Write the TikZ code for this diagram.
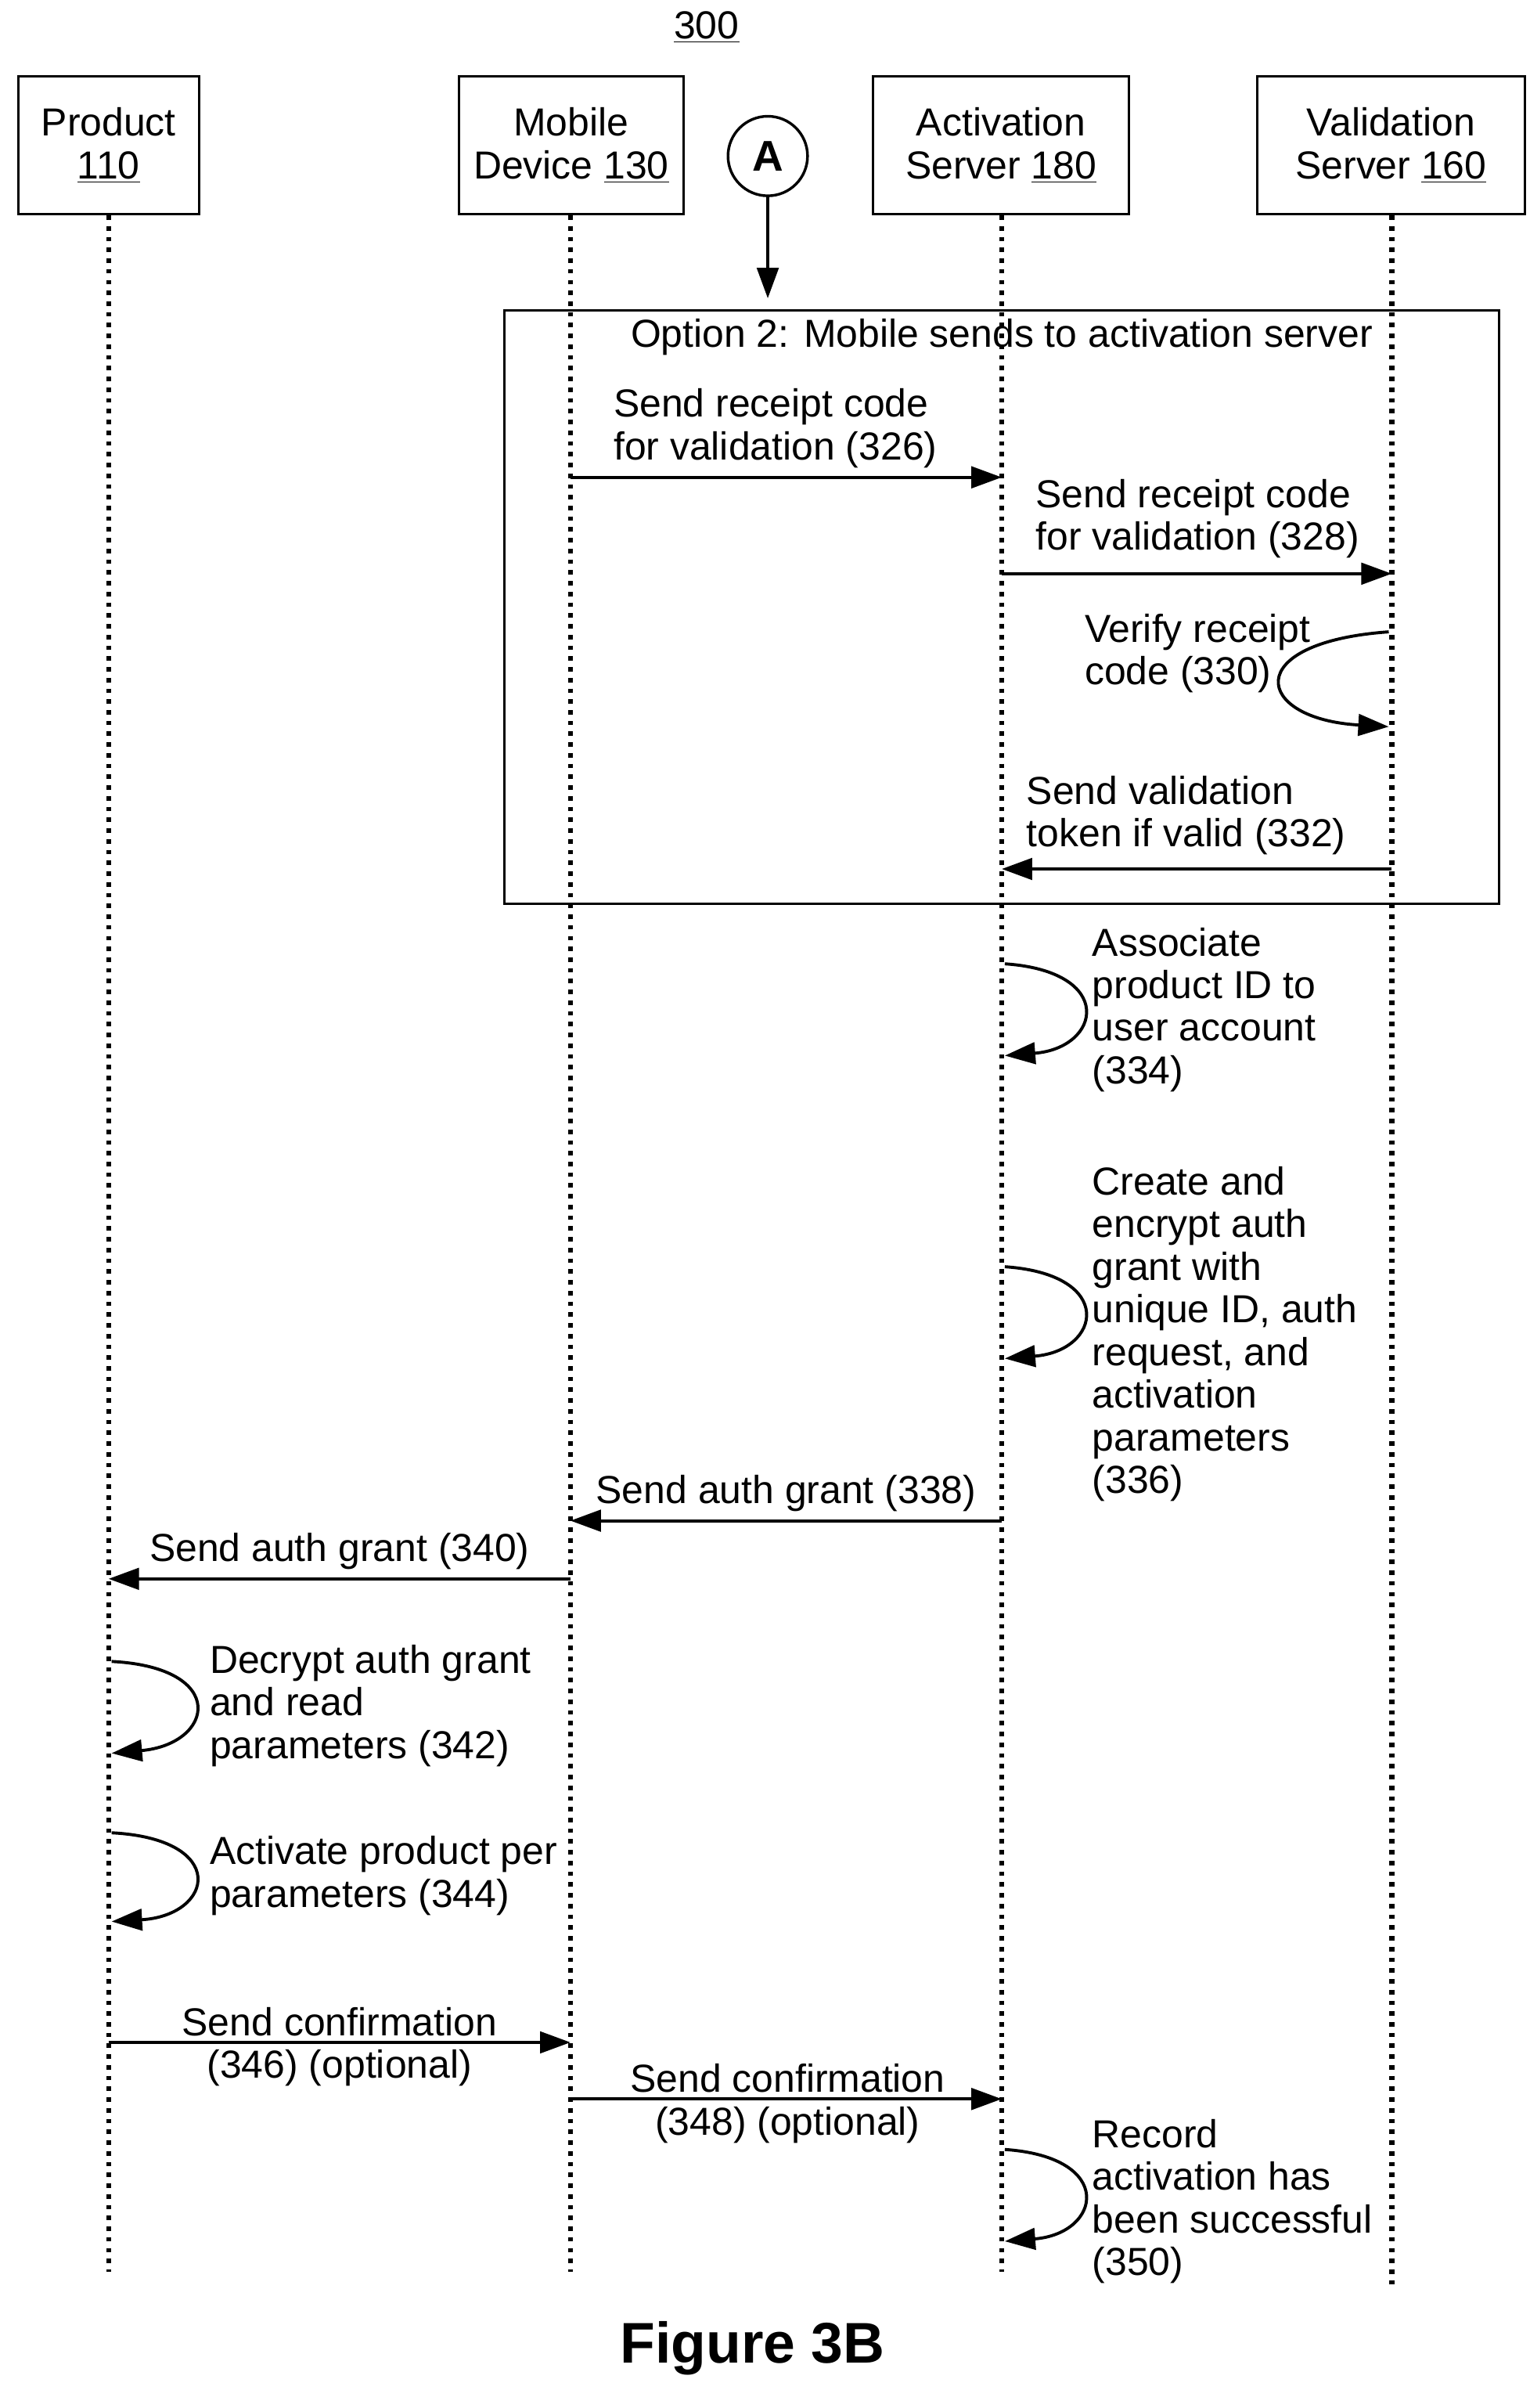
\documentclass[tikz,border=0pt]{standalone}
\usepackage{fontspec}
\setmainfont{Liberation Sans}
\usetikzlibrary{arrows.meta}
\begin{document}
\begin{tikzpicture}[x=0.03cm,y=-0.03cm,
  every node/.style={font=\fontsize{21.8}{23.8}\selectfont},
  hdr/.style={draw,line width=1.3pt,align=center,minimum height=2.7cm,inner sep=0pt},
  life/.style={line width=2.8pt,dash pattern=on 2.5pt off 3.5pt},
  msg/.style={line width=1.7pt,-{Triangle[length=17pt,width=12pt]}},
  lbl/.style={align=left,anchor=west,inner sep=0pt},
  clbl/.style={align=center,anchor=south,inner sep=0pt}]
\useasboundingbox (0,0) rectangle (1000,1574);
\node[anchor=south] (t) at (462,32) {\underline{300}};
\node[hdr,minimum width=3.54cm] (p) at (71,95) {Product\\\underline{110}};
\node[hdr,minimum width=4.41cm] (m) at (373.5,95) {Mobile\\Device \underline{130}};
\node[hdr,minimum width=5.01cm] (a) at (654.5,95) {Activation\\Server \underline{180}};
\node[hdr,minimum width=5.25cm] (v) at (909.5,95) {Validation\\Server \underline{160}};
\coordinate (pe) at (71,1485); \coordinate (me) at (373,1485);
\coordinate (ae) at (655,1485); \coordinate (ve) at (910,1495);
\draw[life] (p.south) -- (pe); \draw[life] (m.south-|me) -- (me);
\draw[life] (a.south-|ae) -- (ae); \draw[life] (v.south-|ve) -- (ve);
\node[draw,circle,line width=1.5pt,minimum size=1.56cm,inner sep=0pt,font=\fontsize{24}{26}\selectfont\bfseries] (A) at (502,102) {A};
\coordinate (Ae) at (502,195);
\draw[msg] (A) -- (Ae);
\draw[line width=1.3pt] (330,203) rectangle (980,591);
\node[anchor=north,inner sep=0pt] (opt) at (655,208) {Option 2: Mobile sends to activation server};
\coordinate (m1) at (373,312); \coordinate (a1) at (655,312);
\draw[msg] (m1) -- (a1);
\node[lbl] (l326) at (401,280) {Send receipt code\\for validation (326)};
\coordinate (a2) at (655,375); \coordinate (v2) at (910,375);
\draw[msg] (a2) -- (v2);
\node[lbl] (l328) at (677,339) {Send receipt code\\for validation (328)};
\coordinate (v3a) at (908,413); \coordinate (v3b) at (908,475);
\draw[msg] (v3a) .. controls (810,420) and (820,470) .. (v3b);
\node[lbl] (l330) at (709,427) {Verify receipt\\code (330)};
\coordinate (v4) at (910,568); \coordinate (a4) at (655,568);
\draw[msg] (v4) -- (a4);
\node[lbl] (l332) at (671,533) {Send validation\\token if valid (332)};
\coordinate (a5a) at (657,630); \coordinate (a5b) at (657,690);
\draw[msg] (a5a) .. controls (730,635) and (720,685) .. (a5b);
\node[lbl] (l334) at (714,660) {Associate\\product ID to\\user account\\(334)};
\coordinate (a6a) at (657,828); \coordinate (a6b) at (657,888);
\draw[msg] (a6a) .. controls (730,833) and (720,883) .. (a6b);
\node[lbl] (l336) at (714,872) {Create and\\encrypt auth\\grant with\\unique ID, auth\\request, and\\activation\\parameters\\(336)};
\coordinate (a7) at (655,994); \coordinate (m7) at (373,994);
\draw[msg] (a7) -- (m7);
\node[clbl] (l338) at (514,988) {Send auth grant (338)};
\coordinate (m8) at (373,1032); \coordinate (p8) at (71,1032);
\draw[msg] (m8) -- (p8);
\node[clbl] (l340) at (222,1026) {Send auth grant (340)};
\coordinate (p9a) at (73,1086); \coordinate (p9b) at (73,1146);
\draw[msg] (p9a) .. controls (150,1090) and (140,1140) .. (p9b);
\node[lbl] (l342) at (137,1115) {Decrypt auth grant\\and read\\parameters (342)};
\coordinate (p10a) at (73,1198); \coordinate (p10b) at (73,1256);
\draw[msg] (p10a) .. controls (150,1202) and (140,1252) .. (p10b);
\node[lbl] (l344) at (137,1226) {Activate product per\\parameters (344)};
\coordinate (p11) at (71,1335); \coordinate (m11) at (373,1335);
\draw[msg] (p11) -- (m11);
\node[clbl] (l346) at (222,1364) {Send confirmation\\(346) (optional)};
\coordinate (m12) at (373,1372); \coordinate (a12) at (655,1372);
\draw[msg] (m12) -- (a12);
\node[clbl] (l348) at (515,1401) {Send confirmation\\(348) (optional)};
\coordinate (a13a) at (657,1405); \coordinate (a13b) at (657,1465);
\draw[msg] (a13a) .. controls (730,1410) and (720,1460) .. (a13b);
\node[lbl] (l350) at (714,1439) {Record\\activation has\\been successful\\(350)};
\node (fig) at (492,1535) {\fontsize{32}{34}\selectfont\bfseries Figure 3B};
\end{tikzpicture}
\end{document}
